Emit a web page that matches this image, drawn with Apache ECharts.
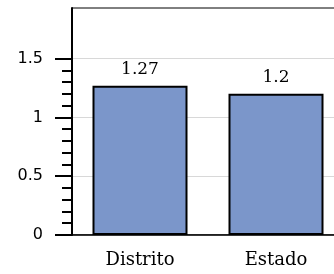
<!DOCTYPE html>
<html>
<head>
<meta charset="utf-8">
<script src="https://cdn.jsdelivr.net/npm/echarts@6/dist/echarts.min.js"></script>
<style>
  html, body { margin: 0; padding: 0; background: #fff; }
  #chart { width: 334px; height: 274px; }
</style>
</head>
<body>
<div id="chart"></div>
<script>
// datos
const categories = ['Distrito', 'Estado']
const values = [1.27, 1.2]
const majorTicks = [0, 0.5, 1, 1.5]
const minorTicks = [0.1, 0.2, 0.3, 0.4, 0.6, 0.7, 0.8, 0.9, 1.1, 1.2, 1.3, 1.4]

const chart = echarts.init(document.getElementById('chart'), null, { renderer: 'canvas' })

const option = {
    animation: false,
    grid: {
        left: 72,
        top: 8,
        bottom: 39,
        width: 272,
        outerBoundsMode: 'none',
        containLabel: false,
        show: true,
        borderColor: '#000',
        borderWidth: 1,
    },
    xAxis: {
        type: 'category',
        data: categories,
        axisLine: { lineStyle: { color: '#000', width: 1.5 } },
        axisTick: { show: false },
        axisLabel: {
            margin: 16,
            color: '#000',
            fontFamily: 'DejaVu Serif',
            fontSize: 18,
        },
    },
    yAxis: [
        {
            type: 'value',
            min: 0,
            max: 1.93,
            position: 'left',
            axisLine: { show: true, lineStyle: { color: '#000', width: 2 } },
            axisTick: {
                show: true,
                customValues: majorTicks,
                length: 17,
                lineStyle: { color: '#000', width: 2 },
            },
            axisLabel: {
                customValues: majorTicks,
                margin: 29,
                color: '#000',
                fontFamily: 'DejaVu Sans',
                fontSize: 16,
            },
            splitLine: { show: true, lineStyle: { color: '#d8d8d8', width: 1 } },
        },
        {
            type: 'value',
            min: 0,
            max: 1.93,
            position: 'left',
            axisLine: { show: false },
            axisTick: {
                show: true,
                customValues: minorTicks,
                length: 10,
                lineStyle: { color: '#000', width: 2 },
            },
            axisLabel: { show: false },
            splitLine: { show: false },
        },
    ],
    series: [
        {
            type: 'bar',
            data: values,
            barWidth: 95,
            itemStyle: {
                color: '#7b96ca',
                borderColor: '#000',
                borderWidth: 2,
            },
            label: {
                show: true,
                position: 'top',
                distance: 8,
                color: '#000',
                fontFamily: 'DejaVu Serif',
                fontSize: 17,
            },
        },
    ],
}
option && chart.setOption(option)
</script>
</body>
</html>
